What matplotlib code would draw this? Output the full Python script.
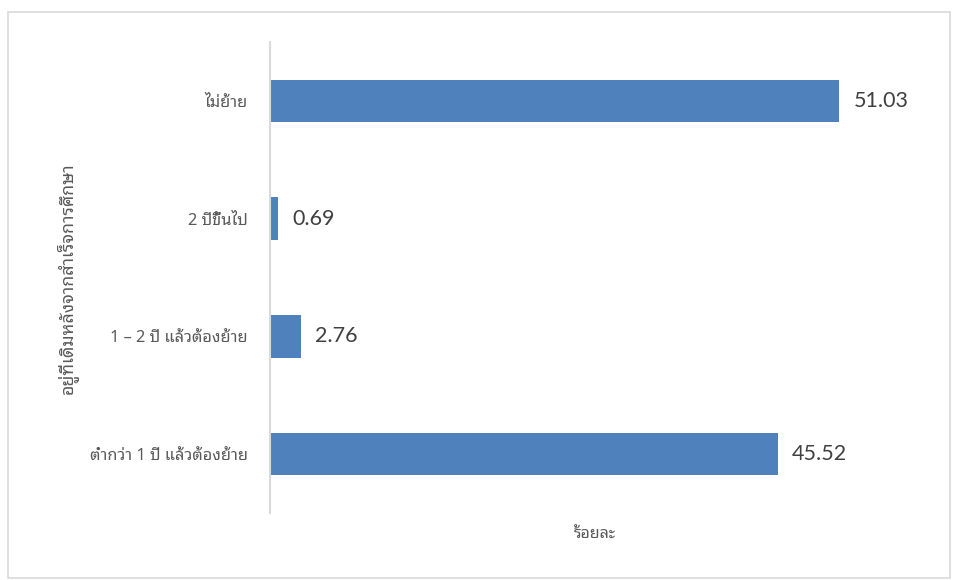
import matplotlib
matplotlib.use("Agg")
import matplotlib.pyplot as plt
from matplotlib.patches import Rectangle

# Data, top to bottom as in the chart
categories = ["ไม่ย้าย", "2 ปีขึ้นไป", "1 – 2 ปี แล้วต้องย้าย", "ต่ำกว่า 1 ปี แล้วต้องย้าย"]
percent = [51.03, 0.69, 2.76, 45.52]
value_labels = ["51.03", "0.69", "2.76", "45.52"]

thai_font = ["Noto Sans Thai Looped", "Noto Sans", "DejaVu Sans"]
num_font = ["Lato", "DejaVu Sans"]
gray_text = "#595959"

fig = plt.figure(figsize=(9.55, 5.8), dpi=100)

# light outer frame like the original chart area
fig.patches.append(Rectangle((8 / 955, 2 / 580), 942 / 955, 566 / 580,
                             transform=fig.transFigure, fill=False,
                             edgecolor="#d9d9d9", linewidth=1.2))

ax = fig.add_axes([270 / 955, 67 / 580, 669 / 955, 471 / 580])

ypos = list(range(len(categories)))
ax.barh(ypos, percent, height=0.36, color="#4f81bd")
ax.set_ylim(len(categories) - 0.5, -0.5)
ax.set_xlim(0, 60)

for y, v, lab in zip(ypos, percent, value_labels):
    ax.text(v + 1.3, y, lab, va="center", ha="left", fontsize=15.5,
            color="#404040", family=num_font)

ax.set_yticks(ypos)
ax.set_yticklabels(categories, family=thai_font, fontsize=11.8, color=gray_text)
ax.tick_params(axis="y", length=0, pad=16)
ax.set_xticks([])

for side in ["top", "right", "bottom"]:
    ax.spines[side].set_visible(False)
ax.spines["left"].set_color("#d9d9d9")
ax.spines["left"].set_linewidth(1.5)

fig.text(68 / 955, 1 - 278 / 580, "อยู่ที่เดิมหลังจากสำเร็จการศึกษา", rotation=90,
         ha="center", va="center", fontsize=12.8, color=gray_text, family=thai_font)
fig.text(595 / 955, 1 - 535 / 580, "ร้อยละ", ha="center", va="center",
         fontsize=11.5, color=gray_text, family=thai_font)

fig.savefig("out.png", dpi=100)
